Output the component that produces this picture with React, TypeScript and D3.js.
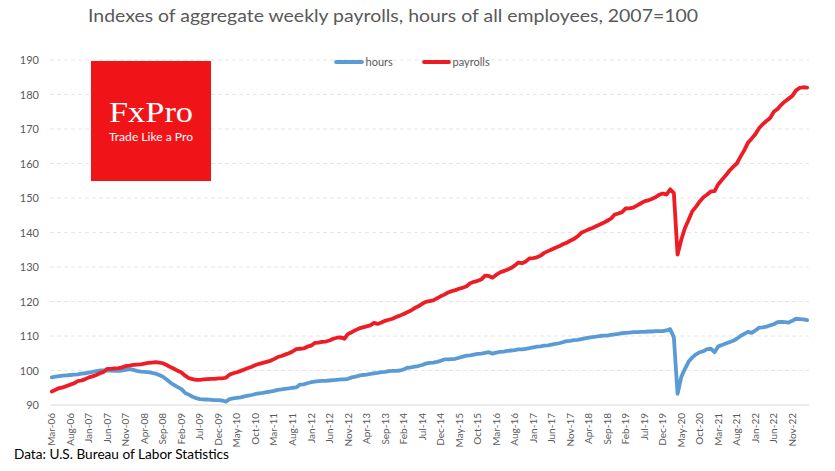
import React, { useEffect } from 'react';
import * as d3 from 'd3';

// ---- Data (index, 2007=100), monthly Mar-2006 .. Mar-2023 ----
const hours2006 = [98.0, 98.2, 98.4, 98.5, 98.6, 98.7, 98.8, 98.9, 99.1, 99.2];
const hours2007 = [99.4, 99.6, 99.8, 100.0, 100.0, 100.0, 100.0, 99.9, 99.9, 100.0, 100.2, 100.4];
const hours2008 = [100.2, 99.9, 99.7, 99.6, 99.5, 99.3, 99.1, 98.7, 98.2, 97.4, 96.5, 95.8];
const hours2009 = [95.2, 94.6, 93.5, 93.0, 92.4, 92.0, 91.7, 91.6, 91.6, 91.5, 91.4, 91.4];
const hours2010 = [91.3, 91.0, 91.7, 91.9, 92.1, 92.2, 92.5, 92.7, 92.9, 93.2, 93.4, 93.5];
const hours2011 = [93.7, 93.9, 94.1, 94.4, 94.5, 94.7, 94.8, 95.0, 95.1, 95.9, 96.0, 96.3];
const hours2012 = [96.6, 96.8, 96.9, 97.0, 97.0, 97.1, 97.2, 97.3, 97.4, 97.4, 97.6, 98.0];
const hours2013 = [98.2, 98.5, 98.7, 98.8, 99.0, 99.2, 99.3, 99.5, 99.6, 99.8, 99.9, 99.9];
const hours2014 = [100.0, 100.3, 100.8, 100.9, 101.1, 101.3, 101.6, 102.0, 102.2, 102.3, 102.5, 102.8];
const hours2015 = [103.2, 103.2, 103.3, 103.4, 103.7, 104.0, 104.3, 104.4, 104.6, 104.8, 104.9, 105.1];
const hours2016 = [105.3, 104.9, 105.2, 105.4, 105.5, 105.7, 105.8, 105.9, 106.1, 106.1, 106.3, 106.5];
const hours2017 = [106.7, 106.9, 107.0, 107.2, 107.3, 107.5, 107.7, 107.9, 108.2, 108.5, 108.6, 108.8];
const hours2018 = [108.9, 109.1, 109.3, 109.5, 109.7, 109.8, 110.0, 110.1, 110.1, 110.3, 110.5, 110.6];
const hours2019 = [110.8, 110.9, 111.0, 111.1, 111.1, 111.2, 111.2, 111.3, 111.3, 111.4, 111.4, 111.4];
const hours2020 = [111.6, 112.0, 109.6, 93.2, 98.1, 100.5, 102.6, 103.8, 104.7, 105.3, 105.6, 106.2];
const hours2021 = [106.3, 105.3, 107.0, 107.4, 107.8, 108.2, 108.6, 109.2, 110.0, 110.6, 111.2, 110.9];
const hours2022 = [111.6, 112.4, 112.5, 112.7, 113.1, 113.4, 114.0, 114.1, 114.0, 113.9, 114.4, 115.0];
const hours2023 = [114.9, 114.8, 114.6];

const payrolls2006 = [93.9, 94.4, 94.9, 95.1, 95.5, 95.9, 96.3, 96.9, 97.1, 97.5];
const payrolls2007 = [98.0, 98.3, 98.7, 99.2, 99.6, 100.5, 100.5, 100.6, 100.7, 100.9, 101.3, 101.4];
const payrolls2008 = [101.6, 101.7, 101.8, 102.0, 102.2, 102.3, 102.4, 102.3, 102.1, 101.6, 101.0, 100.5];
const payrolls2009 = [99.9, 99.4, 98.5, 97.8, 97.5, 97.3, 97.3, 97.4, 97.5, 97.6, 97.6, 97.7];
const payrolls2010 = [97.7, 97.9, 98.8, 99.2, 99.5, 99.9, 100.3, 100.7, 101.1, 101.6, 101.9, 102.2];
const payrolls2011 = [102.5, 102.8, 103.3, 103.9, 104.2, 104.6, 105.0, 105.5, 106.2, 106.3, 106.4, 106.9];
const payrolls2012 = [107.2, 108.0, 108.1, 108.3, 108.4, 108.7, 109.2, 109.5, 109.6, 109.2, 110.6, 111.1];
const payrolls2013 = [111.7, 112.2, 112.5, 112.8, 113.1, 113.8, 113.5, 113.9, 114.4, 114.7, 115.0, 115.5];
const payrolls2014 = [115.9, 116.4, 116.9, 117.4, 118.1, 118.6, 119.3, 119.9, 120.1, 120.3, 120.9, 121.5];
const payrolls2015 = [122.0, 122.6, 123.0, 123.3, 123.7, 124.0, 124.4, 125.3, 125.7, 126.0, 126.4, 127.5];
const payrolls2016 = [127.4, 126.9, 127.7, 128.4, 128.8, 129.2, 129.7, 130.4, 131.3, 131.1, 131.6, 132.5];
const payrolls2017 = [132.6, 132.8, 133.3, 134.1, 134.6, 135.1, 135.6, 136.0, 136.6, 137.0, 137.6, 138.1];
const payrolls2018 = [138.9, 139.9, 140.4, 140.9, 141.3, 141.8, 142.3, 142.8, 143.4, 144.0, 145.2, 145.5];
const payrolls2019 = [145.9, 147.0, 147.0, 147.2, 147.8, 148.4, 149.0, 149.3, 149.7, 150.2, 150.9, 151.3];
const payrolls2020 = [151.0, 152.5, 151.4, 133.6, 137.9, 141.3, 143.7, 146.2, 147.5, 149.0, 150.2, 151.0];
const payrolls2021 = [151.9, 152.0, 154.0, 155.3, 156.5, 157.9, 159.0, 160.0, 162.0, 163.8, 166.0, 167.2];
const payrolls2022 = [168.5, 170.2, 171.4, 172.3, 173.2, 175.0, 175.8, 177.0, 178.0, 178.8, 179.6, 181.2];
const payrolls2023 = [181.9, 182.1, 182.0];

const hoursValues = [
  ...hours2006, ...hours2007, ...hours2008, ...hours2009, ...hours2010, ...hours2011,
  ...hours2012, ...hours2013, ...hours2014, ...hours2015, ...hours2016, ...hours2017,
  ...hours2018, ...hours2019, ...hours2020, ...hours2021, ...hours2022, ...hours2023,
];
const payrollValues = [
  ...payrolls2006, ...payrolls2007, ...payrolls2008, ...payrolls2009, ...payrolls2010, ...payrolls2011,
  ...payrolls2012, ...payrolls2013, ...payrolls2014, ...payrolls2015, ...payrolls2016, ...payrolls2017,
  ...payrolls2018, ...payrolls2019, ...payrolls2020, ...payrolls2021, ...payrolls2022, ...payrolls2023,
];

const categories = d3.timeMonth.range(new Date(2006, 2, 1), new Date(2023, 3, 1));

const tickLabels = [
  'Mar-06', 'Aug-06', 'Jan-07', 'Jun-07', 'Nov-07', 'Apr-08', 'Sep-08', 'Feb-09', 'Jul-09',
  'Dec-09', 'May-10', 'Oct-10', 'Mar-11', 'Aug-11', 'Jan-12', 'Jun-12', 'Nov-12', 'Apr-13',
  'Sep-13', 'Feb-14', 'Jul-14', 'Dec-14', 'May-15', 'Oct-15', 'Mar-16', 'Aug-16', 'Jan-17',
  'Jun-17', 'Nov-17', 'Apr-18', 'Sep-18', 'Feb-19', 'Jul-19', 'Dec-19', 'May-20', 'Oct-20',
  'Mar-21', 'Aug-21', 'Jan-22', 'Jun-22', 'Nov-22',
];
const yTicks = [90, 100, 110, 120, 130, 140, 150, 160, 170, 180, 190];
const seriesNames = ['hours', 'payrolls'];
const seriesColors = ['#5B9BD5', '#EE1C25'];

const titleText = 'Indexes of aggregate weekly payrolls, hours of all employees, 2007=100';
const sourceText = 'Data: U.S. Bureau of Labor Statistics';

const W = 835;
const H = 471;
const FONT = 'Lato, "Open Sans", sans-serif';
const GREY = '#595959';

export default function App() {
  useEffect(() => {
    document.body.style.margin = '0';
  }, []);

  const fmt = d3.timeFormat('%b-%y');
  const x = d3.scaleBand<number>().domain(d3.range(categories.length)).range([50, 809]).padding(0);
  const y = d3.scaleLinear().domain([90, 190]).range([405, 60]);
  const cx = (i: number) => (x(i) as number) + x.bandwidth() / 2;
  const line = d3
    .line<number>()
    .x((_, i) => cx(i))
    .y((d) => y(d));

  const tickIdx = tickLabels.map((l) => categories.findIndex((d) => fmt(d) === l));
  const series = [hoursValues, payrollValues];

  return (
    <svg
      width={W}
      height={H}
      style={{ position: 'absolute', left: 0, top: 0, display: 'block', background: '#fff' }}
      fontFamily={FONT}
    >
      <rect x={0} y={0} width={W} height={H} fill="#fff" />
      <text x={88} y={22} fontSize={17.5} fill={GREY} textLength={610} lengthAdjust="spacingAndGlyphs">
        {titleText}
      </text>

      {/* gridlines */}
      {yTicks.map((t) =>
        t === 90 ? (
          <line key={t} x1={50} x2={809} y1={y(t)} y2={y(t)} stroke="#d9d9d9" strokeWidth={1} />
        ) : (
          <line
            key={t}
            x1={50}
            x2={809}
            y1={y(t)}
            y2={y(t)}
            stroke="#e6e6e6"
            strokeWidth={1}
            strokeDasharray="4,3"
          />
        )
      )}

      {/* y tick labels */}
      {yTicks.map((t) => (
        <text key={t} x={39} y={y(t) + 4} textAnchor="end" fontSize={11} fill={GREY}>
          {t}
        </text>
      ))}

      {/* x tick labels */}
      {tickIdx.map((i, k) => (
        <text
          key={k}
          transform={`translate(${cx(i) + 3.5},413) rotate(-90)`}
          textAnchor="end"
          fontSize={10}
          fill={GREY}
        >
          {tickLabels[k]}
        </text>
      ))}

      {/* logo */}
      <rect x={91} y={61} width={120} height={120} fill="#F01418" />
      <text
        x={151}
        y={122}
        textAnchor="middle"
        fontFamily='"Liberation Serif", "DejaVu Serif", serif'
        fontSize={30}
        fill="#fff"
        textLength={84}
        lengthAdjust="spacingAndGlyphs"
      >
        FxPro
      </text>
      <text
        x={151}
        y={141}
        textAnchor="middle"
        fontSize={11.5}
        fill="#fff"
        textLength={84}
        lengthAdjust="spacingAndGlyphs"
      >
        Trade Like a Pro
      </text>

      {/* lines */}
      {series.map((s, k) => (
        <path
          key={seriesNames[k]}
          d={line(s) || ''}
          fill="none"
          stroke={seriesColors[k]}
          strokeWidth={3.8}
          strokeLinejoin="round"
          strokeLinecap="round"
        />
      ))}

      {/* legend */}
      <line x1={336} x2={362} y1={62} y2={62} stroke={seriesColors[0]} strokeWidth={3.8} strokeLinecap="round" />
      <text x={365.5} y={66} fontSize={11} fill={GREY}>
        {seriesNames[0]}
      </text>
      <line x1={424} x2={449} y1={62} y2={62} stroke={seriesColors[1]} strokeWidth={3.8} strokeLinecap="round" />
      <text x={452.5} y={66} fontSize={11} fill={GREY}>
        {seriesNames[1]}
      </text>

      {/* source */}
      <text x={14} y={459} fontSize={13.5} fill="#000" textLength={215} lengthAdjust="spacingAndGlyphs">
        {sourceText}
      </text>
    </svg>
  );
}
